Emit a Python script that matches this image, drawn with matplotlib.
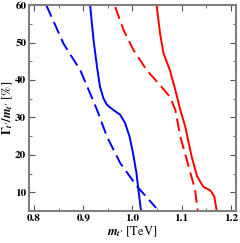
import numpy as np
import matplotlib.pyplot as plt

plt.rcParams['mathtext.fontset'] = 'custom'
plt.rcParams['mathtext.rm'] = 'STIXGeneral:bold'
plt.rcParams['mathtext.it'] = 'STIXGeneral:bold:italic'
plt.rcParams['mathtext.bf'] = 'STIXGeneral:bold'
plt.rcParams['font.family'] = 'STIXGeneral'
plt.rcParams['font.weight'] = 'bold'

# blue, solid
blue_solid_m = [0.914, 0.921, 0.928, 0.934, 0.941, 0.948, 0.955, 0.961, 0.975, 0.985,
                0.994, 1.001, 1.008, 1.012, 1.017, 1.018]
blue_solid_g = [60.0, 50.6, 43.5, 38.2, 35.1, 33.4, 32.6, 32.0, 30.7, 28.5,
                24.9, 20.5, 15.2, 10.7, 5.4, 5.0]
# blue, dashed
blue_dash_m = [0.825, 0.860, 0.894, 0.914, 0.928, 0.948, 0.975, 1.009, 1.048]
blue_dash_g = [60.0, 49.7, 42.6, 36.4, 32.0, 24.9, 17.8, 11.6, 5.8]
# red, dashed
red_dash_m = [0.965, 0.982, 1.002, 1.029, 1.056, 1.076, 1.087, 1.097, 1.114, 1.127, 1.132, 1.133]
red_dash_g = [59.5, 53.3, 48.0, 42.6, 38.6, 35.5, 32.0, 24.9, 16.9, 10.7, 5.4, 5.0]
# red, solid
red_solid_m = [1.049, 1.056, 1.063, 1.076, 1.087, 1.097, 1.107, 1.120, 1.131, 1.144,
               1.158, 1.166, 1.171]
red_solid_g = [60.0, 52.4, 47.1, 42.6, 37.3, 32.0, 27.6, 19.6, 14.3, 11.4,
               10.5, 8.9, 5.0]

fig = plt.figure(figsize=(2.40, 2.43), dpi=100)
ax = fig.add_axes([0.121, 0.132, 0.862, 0.847])

ax.plot(blue_solid_m, blue_solid_g, color='#0000ff', lw=1.4)
ax.plot(blue_dash_m, blue_dash_g, color='#0000ff', lw=1.4, dashes=(6.5, 3))
ax.plot(red_dash_m, red_dash_g, color='#ff0000', lw=1.4, dashes=(6.5, 3))
ax.plot(red_solid_m, red_solid_g, color='#ff0000', lw=1.4)

ax.set_xlim(0.79, 1.21)
ax.set_ylim(5, 60)
ax.set_xticks([0.8, 0.9, 1.0, 1.1, 1.2])
ax.set_xticks(np.arange(0.8, 1.21, 0.05), minor=True)
ax.set_yticks([10, 20, 30, 40, 50, 60])
ax.set_yticks(np.arange(5, 61, 5), minor=True)
ax.tick_params(which='both', direction='in', top=True, right=True,
               labelsize=8, color='#555555', pad=2)
ax.tick_params(which='major', length=4)
ax.tick_params(which='minor', length=2)
for s in ax.spines.values():
    s.set_color('#808080')
    s.set_linewidth(1.5)

ax.set_xlabel(r"$m_{t\prime}$ [TeV]", fontsize=9, labelpad=1)
ax.set_ylabel(r"$\Gamma_{t\prime}/m_{t\prime}$ [%]", fontsize=9, labelpad=0)

fig.savefig('out.png', dpi=100)
